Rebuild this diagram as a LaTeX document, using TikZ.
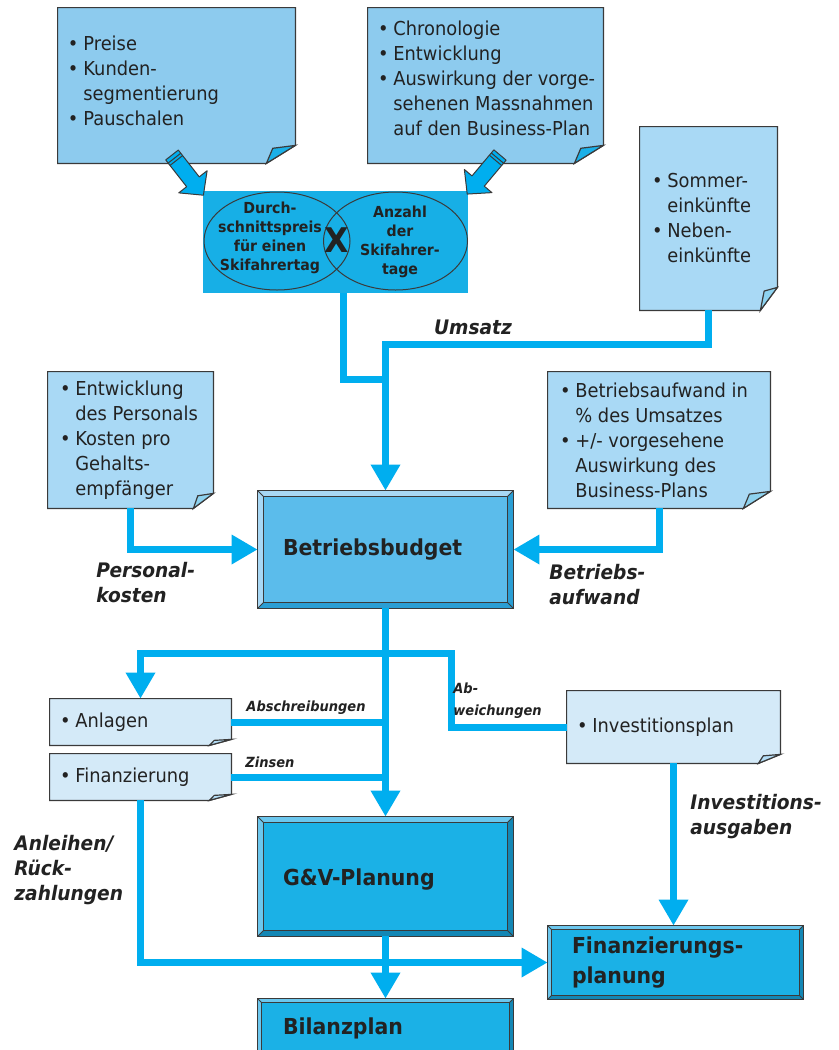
\documentclass[tikz,border=0pt]{standalone}
\usepackage{fontspec}
\setmainfont{DejaVu Sans}[FakeStretch=0.93]
\usepackage{tikz}
\usetikzlibrary{
  arrows.meta,
  shapes.geometric,
  positioning,
  fit,
  calc
}
\definecolor{skFlow}{HTML}{00AEEF}
\definecolor{skNoteA}{HTML}{8DCBEE}
\definecolor{skNoteB}{HTML}{A9D9F5}
\definecolor{skNoteC}{HTML}{D4EAF8}
\definecolor{skFlapA}{HTML}{1AB0E8}
\definecolor{skFlapB}{HTML}{8ED3F0}
\definecolor{skFlapC}{HTML}{B3DDF6}
\definecolor{skCalc}{HTML}{17AFE6}
\definecolor{skBudget}{HTML}{5BBCEB}
\definecolor{skPlan}{HTML}{1BB1E6}
\definecolor{skBevLight}{HTML}{A8D8F5}
\definecolor{skBevDark}{HTML}{2A9ED4}
\definecolor{skPlanLight}{HTML}{6CC7EE}
\definecolor{skPlanDark}{HTML}{1387B5}
\definecolor{skLine}{HTML}{3A3A3A}
\definecolor{skText}{HTML}{222222}
\tikzset{
  notebox/.style={inner sep=0pt, fill=#1},
  notetext/.style={inner sep=0pt, anchor=west, align=left, font=\fontsize{9.6}{12.5}\selectfont, text=skText},
  noteline/.style={draw=skLine, line width=0.6pt},
  planbox/.style={inner sep=0pt, fill=#1},
  plantext/.style={inner sep=0pt, anchor=west, align=left, font=\fontsize{11}{15}\selectfont\bfseries, text=skText},
  calcbox/.style={inner sep=0pt, fill=skCalc},
  oval/.style={ellipse, draw=skLine, line width=0.5pt, inner sep=0pt, minimum width=73pt, minimum height=49pt},
  ovaltext/.style={inner sep=0pt, align=center, font=\fontsize{7.6}{9.5}\selectfont\bfseries, text=skText},
  fatarrow/.style={fill=skFlow, draw=skLine, line width=0.5pt, line join=round},
  flow/.style={draw=skFlow, line width=3.5pt, -{Triangle[length=13pt, width=14pt]}},
  feed/.style={draw=skFlow, line width=3.5pt},
  tag/.style={inner sep=0pt, align=left, font=\fontsize{10}{12.5}\selectfont\bfseries\itshape, text=skText},
  smalltag/.style={inner sep=0pt, align=left, font=\fontsize{7}{11}\selectfont\bfseries\itshape, text=skText}
}
\newcommand{\blt}{\makebox[0.8em][l]{\textbullet}}
\newcommand{\bind}{\hspace*{0.8em}}
% note outline with folded corner: node, fold x, fold y, flap colour
\newcommand{\notecurl}[4]{%
  \fill[white] ($(#1.south east)+(0,-#3)$) -- (#1.south east) -- ($(#1.south east)+(-#2,0)$) -- cycle;
  \draw[noteline] (#1.north west) -- (#1.north east) -- ($(#1.south east)+(0,-#3)$)
    -- ($(#1.south east)+(-#2,0)$) -- (#1.south west) -- cycle;
  \filldraw[noteline, fill=#4] ($(#1.south east)+(0,-#3)$) -- ($(#1.south east)+(-0.78*#2,-0.84*#3)$)
    -- ($(#1.south east)+(-#2,0)$) -- cycle;
}
% bevelled frame: node, depth, light, dark
\newcommand{\bevelframe}[4]{%
  \fill[#3] (#1.north west) -- (#1.north east) -- ($(#1.north east)+(-#2,#2)$) -- ($(#1.north west)+(#2,#2)$) -- cycle;
  \fill[#3] (#1.north west) -- ($(#1.north west)+(#2,#2)$) -- ($(#1.south west)+(#2,-#2)$) -- (#1.south west) -- cycle;
  \fill[#4] (#1.north east) -- ($(#1.north east)+(-#2,#2)$) -- ($(#1.south east)+(-#2,-#2)$) -- (#1.south east) -- cycle;
  \fill[#4] (#1.south west) -- ($(#1.south west)+(#2,-#2)$) -- ($(#1.south east)+(-#2,-#2)$) -- (#1.south east) -- cycle;
  \draw[noteline] (#1.north west) rectangle (#1.south east);
  \draw[skLine, line width=0.5pt] ($(#1.north west)+(#2,#2)$) rectangle ($(#1.south east)+(-#2,-#2)$);
  \draw[skLine, line width=0.4pt] (#1.north west) -- ++(#2,#2) (#1.north east) -- ++(-#2,#2)
    (#1.south west) -- ++(#2,-#2) (#1.south east) -- ++(-#2,-#2);
}

\begin{document}
\begin{tikzpicture}[x=0.5pt, y=-0.5pt]
  \clip (0,0) rectangle (839,1050);
  \fill[white] (0,0) rectangle (839,1050);

  % Umsatz = Preis x Tage
  \node[calcbox, fit={(203,191) (468,293)}] (umsatz) {};
  \node[oval] (preis) at (277,241) {};
  \node[oval, minimum width=72pt] (tage) at (395.5,241) {};
  \node[ovaltext] (preistext) at ($(preis)+(-7,-3.5)$) {Durch-\\schnittspreis\\für einen\\Skifahrertag};
  \node[ovaltext] (tagetext) at ($(tage)+(4.5,1)$) {Anzahl\\der\\Skifahrer-\\tage};
  \node[inner sep=0pt, font=\fontsize{17}{17}\selectfont\bfseries, text=skText] (mal) at (337,240) {X};

  % notes
  \node[notebox=skNoteA, fit={(58,8) (295,163)}] (preise) {};
  \notecurl{preise}{29}{18}{skFlapA}
  \node[notetext] (preisetext) at ([xshift=5pt, yshift=2.5pt]preise.west)
    {\blt Preise\\\blt Kunden-\\\bind segmentierung\\\blt Pauschalen};

  \node[notebox=skNoteA, fit={(368,8) (603,163)}] (chrono) {};
  \notecurl{chrono}{29}{18}{skFlapA}
  \node[notetext] (chronotext) at ([xshift=5pt, yshift=3.5pt]chrono.west)
    {\blt Chronologie\\\blt Entwicklung\\\blt Auswirkung der vorge-\\\bind sehenen Massnahmen\\\bind auf den Business-Plan};

  \node[notebox=skNoteB, fit={(640,127) (777,310)}] (sommer) {};
  \notecurl{sommer}{17}{23}{skFlapB}
  \node[notetext] (sommertext) at ([xshift=6pt]sommer.west)
    {\blt Sommer-\\\bind einkünfte\\\blt Neben-\\\bind einkünfte};

  \node[notebox=skNoteB, fit={(48,372) (213,508)}] (personal) {};
  \notecurl{personal}{20}{15}{skFlapB}
  \node[notetext] (personaltext) at ([xshift=6pt]personal.west)
    {\blt Entwicklung\\\bind des Personals\\\blt Kosten pro\\\bind Gehalts-\\\bind empfänger};

  \node[notebox=skNoteB, fit={(548,372) (770,508)}] (aufwand) {};
  \notecurl{aufwand}{27}{17}{skFlapB}
  \node[notetext] (aufwandtext) at ([xshift=6pt]aufwand.west)
    {\blt Betriebsaufwand in\\\bind \% des Umsatzes\\\blt +/- vorgesehene\\\bind Auswirkung des\\\bind Business-Plans};

  \node[notebox=skNoteC, fit={(50,699) (231,745)}] (anlagen) {};
  \notecurl{anlagen}{22}{6}{skFlapC}
  \node[notetext] (anlagentext) at ([xshift=5pt]anlagen.west) {\blt Anlagen};

  \node[notebox=skNoteC, fit={(50,754) (231,800)}] (finanz) {};
  \notecurl{finanz}{22}{6}{skFlapC}
  \node[notetext] (finanztext) at ([xshift=5pt]finanz.west) {\blt Finanzierung};

  \node[notebox=skNoteC, fit={(567,691) (780,763)}] (invest) {};
  \notecurl{invest}{22}{9}{skFlapC}
  \node[notetext] (investtext) at ([xshift=5pt]invest.west) {\blt Investitionsplan};

  % plans
  \node[planbox=skBudget, fit={(258,491) (513,608)}] (budget) {};
  \bevelframe{budget}{6}{skBevLight}{skBevDark}
  \node[plantext] (budgettext) at ([xshift=12.5pt]budget.west) {Betriebsbudget};

  \node[planbox=skPlan, fit={(258,817) (513,936)}] (guv) {};
  \bevelframe{guv}{6}{skPlanLight}{skPlanDark}
  \node[plantext] (guvtext) at ([xshift=12.5pt, yshift=-1.5pt]guv.west) {G\&V-Planung};

  \node[planbox=skPlan, fit={(548,926) (803,999)}] (finplan) {};
  \bevelframe{finplan}{4}{skPlanLight}{skPlanDark}
  \node[plantext] (finplantext) at ([xshift=12pt]finplan.west) {Finanzierungs-\\planung};

  \node[planbox=skPlan, fit={(258,999) (513,1057)}] (bilanz) {};
  \bevelframe{bilanz}{4}{skPlanLight}{skPlanDark}
  \node[plantext] (bilanztext) at ([xshift=12.5pt]bilanz.west) {Bilanzplan};

  % fat arrows into the Umsatz box
  \begin{scope}[shift={(172,155)}, rotate=-52]
    \filldraw[fatarrow] (0,-8) -- (34,-8) -- (34,-18) -- (51,0) -- (34,18) -- (34,8) -- (0,8) -- cycle;
    \draw[skLine, line width=0.5pt] (4,-8) -- (4,8) (7,-8) -- (7,8);
  \end{scope}
  \begin{scope}[shift={(500,155)}, rotate=-130]
    \filldraw[fatarrow] (0,-8) -- (34,-8) -- (34,-18) -- (51,0) -- (34,18) -- (34,8) -- (0,8) -- cycle;
    \draw[skLine, line width=0.5pt] (4,-8) -- (4,8) (7,-8) -- (7,8);
  \end{scope}

  % connectors
  \coordinate (split) at ($(budget.south)+(0,45)$);
  \draw[feed] ([xshift=4pt]umsatz.south) |- ($(budget.north)+(0,-111)$);
  \draw[flow] (sommer.south) |- ($(budget.north)+(0,-146)$) -- (budget.north);
  \draw[flow] (personal.south) |- (budget.west);
  \draw[flow] (aufwand.south) |- (budget.east);
  \draw[flow] (budget.south) -- (budget.south |- guv.north);
  \draw[flow] (split) -| (anlagen.north);
  \draw[feed] (split) -- ($(split -| invest.west)+(-115,0)$) |- (invest.west);
  \draw[feed] (anlagen.east) -- (anlagen.east -| budget.south);
  \draw[feed] (finanz.east) -- (finanz.east -| budget.south);
  \draw[flow] (finanz.south) |- (finplan.west);
  \draw[flow] (invest.south) -- (invest.south |- finplan.north);
  \draw[flow] (guv.south) -- (guv.south |- bilanz.north);

  % labels
  \node[tag] (lblumsatz) at (473,327) {Umsatz};
  \node[tag, anchor=west] (lblpers) at (96,583) {Personal-\\kosten};
  \node[tag, anchor=west] (lblaufw) at (549,585) {Betriebs-\\aufwand};
  \node[smalltag] (lblabschr) at (306,708) {Abschreibungen};
  \node[smalltag, anchor=west] (lblzins) at (245,762) {Zinsen};
  \node[smalltag, anchor=west] (lblabw) at (453,701) {Ab-\\weichungen};
  \node[tag, anchor=west] (lblanl) at (14,870) {Anleihen/\\Rück-\\zahlungen};
  \node[tag, anchor=west] (lblinv) at (690,817) {Investitions-\\ausgaben};
\end{tikzpicture}
\end{document}
